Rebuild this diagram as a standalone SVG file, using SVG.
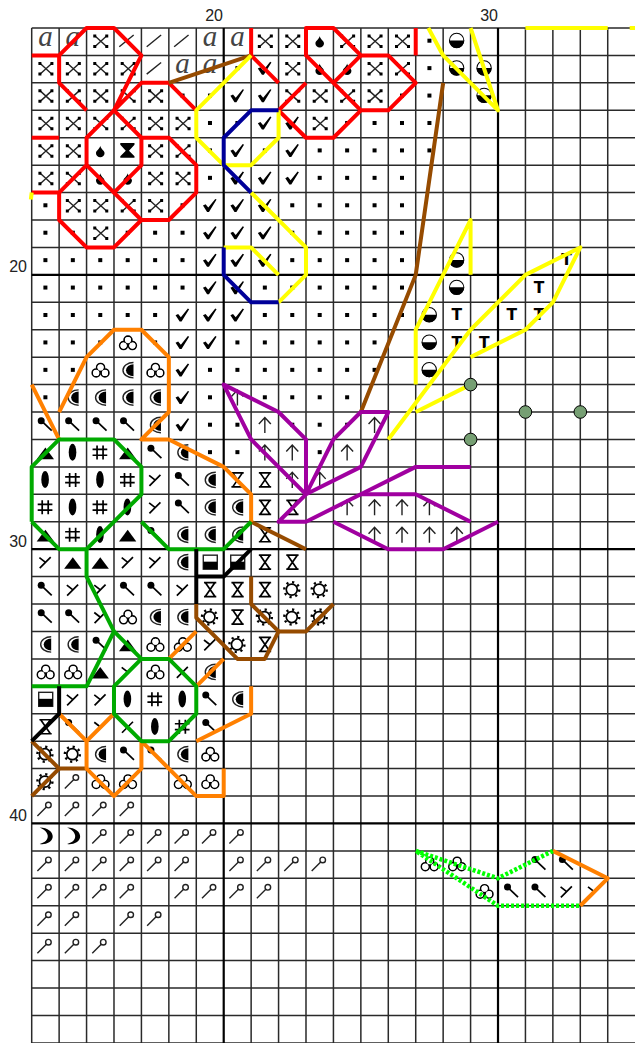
<svg xmlns="http://www.w3.org/2000/svg" width="635" height="1043" viewBox="0 0 635 1043">
<style>
.t{font-family:"Liberation Sans",Arial,sans-serif;font-size:16px;fill:#222}
.s{fill:none;stroke:#000;stroke-width:1.7}
.n{fill:none;stroke:#222;stroke-width:1.4}
.f{fill:#000;stroke:none}
.w{fill:#fff;stroke:none}
#grid path{fill:none;vector-effect:non-scaling-stroke;stroke:#2a2a2a;stroke-width:1.5}
#grid path.h{stroke:#000;stroke-width:2.2}
#connectors polyline{fill:none;vector-effect:non-scaling-stroke;stroke-width:4;stroke-linejoin:round}
.r polyline{stroke:#f00}.y polyline{stroke:#ff0}.b polyline{stroke:#009}.br polyline{stroke:#964b00}.o polyline{stroke:#ff8000}.g polyline{stroke:#0a0}.p polyline{stroke:#a000a0}.k polyline{stroke:#000}
#connectors .d polyline{stroke:#0f0;stroke-width:4.5;stroke-dasharray:3 2}
</style>
<defs>
<g id="a" transform="scale(.03646)"><text x="13.7" y="18" text-anchor="middle" font-family="Liberation Serif,serif" font-style="italic" font-size="29" fill="#444">a</text></g>
<g id="sl" transform="scale(.03646)"><path class="n" d="M5.3 18.7 19.7 7"/></g>
<g id="x" transform="scale(.03646)"><path class="n" d="M8.5 8 20 18.5M20 8 8.5 18.5"/><path class="f" d="M6.7 6.5h3v3h-3zM18.7 6.5h3v3h-3zM6.7 17h3v3h-3zM18.7 17h3v3h-3z"/></g>
<g id="dr" transform="scale(.03646)"><path class="f" d="M13.7 8C14 11 18 13 18 15.2A4.3 4.3 0 0 1 9.4 15.2C9.4 13 13.4 11 13.7 8Z"/></g>
<g id="hf" transform="scale(.03646)"><path class="f" d="M6.3 5.3H20.5V7L15 13L20.5 18.5V20H6.3V18.5L11.8 13L6.3 7Z"/></g>
<g id="dt" transform="scale(.03646)"><rect class="f" x="11.7" y="10.7" width="4" height="4"/></g>
<g id="ck" transform="scale(.03646)"><path class="f" d="M6.7 13 9.3 11.7 12 15 19 6.3 20.3 7 12.7 19.3H10.8Z"/></g>
<g id="tr" transform="scale(.03646)"><circle class="s" cx="14" cy="10.3" r="3.9"/><circle class="s" cx="9.6" cy="15.8" r="3.9"/><circle class="s" cx="18.4" cy="15.8" r="3.9"/><circle class="w" cx="14" cy="10.3" r="3.1"/><circle class="w" cx="9.6" cy="15.8" r="3.1"/><circle class="w" cx="18.4" cy="15.8" r="3.1"/></g>
<g id="cr" transform="scale(.03646)"><path class="n" d="M19.5 5.3A10.5 7.7 0 0 0 19.5 20.7"/><path class="f" d="M19.5 7A7.5 6 0 0 0 19.5 19Z"/></g>
<g id="pn" transform="scale(.03646)"><circle class="f" cx="9.5" cy="8.7" r="3.5"/><path class="s" d="M9.5 8.7 20 18.7"/></g>
<g id="tg" transform="scale(.03646)"><path class="f" d="M13.7 8 5 19.7H22.3Z"/></g>
<g id="ov" transform="scale(.03646)"><ellipse class="f" cx="13.4" cy="12.7" rx="3.8" ry="8.5"/></g>
<g id="ha" transform="scale(.03646)"><path class="s" d="M10.5 6V20M16.5 6V20M6 10H20.7M6 15.8H20.7"/></g>
<g id="yy" transform="scale(.03646)"><path class="s" d="M7.7 8.5 13.5 13M19 8 8 19"/></g>
<g id="hw" transform="scale(.03646)"><path class="s" d="M7.7 6H20M7.7 20H20M9 6 18.7 20M18.7 6 9 20"/></g>
<g id="bx" transform="scale(.03646)"><rect class="n" x="7" y="6" width="14" height="14"/><rect class="f" x="7" y="12.5" width="14" height="7.5"/></g>
<g id="su" transform="scale(.03646)"><circle class="s" cx="13.2" cy="13" r="5.5"/><circle cx="13.2" cy="13" r="7.5" fill="none" stroke="#000" stroke-width="2.4" stroke-dasharray="2.2 3.7"/></g>
<g id="lo" transform="scale(.03646)"><circle class="n" cx="16.7" cy="9" r="2.8"/><path class="n" d="M5.7 20 14.7 11"/></g>
<g id="mo" transform="scale(.03646)"><path class="f" d="M8 4C16 4 21.5 8.5 21 13.5C20.5 18.5 14 21.5 8 20.5C13.5 19 16.5 16 16 12C15.5 8.5 12 5.5 8 4Z"/></g>
<g id="hc" transform="scale(.03646)"><circle cx="13.5" cy="12.5" r="7.2" fill="#fff" stroke="#000" stroke-width="1"/><path class="f" d="M6 12.5A7.5 7.5 0 0 0 21 12.5Z"/></g>
<g id="ar" transform="scale(.03646)"><path class="n" d="M13.7 5.5V21M7.7 12 13.7 5.5 19.7 12"/></g>
<g id="tt" transform="scale(.03646)"><text x="13.7" y="18" text-anchor="middle" font-family="DejaVu Sans,sans-serif" font-weight="bold" font-size="15.5" fill="#000">T</text></g>
</defs>
<text class="t" x="223" y="21" text-anchor="end">20</text>
<text class="t" x="498" y="21" text-anchor="end">30</text>
<text class="t" x="27" y="272" text-anchor="end">20</text>
<text class="t" x="27" y="547" text-anchor="end">30</text>
<text class="t" x="27" y="821" text-anchor="end">40</text>
<g transform="translate(31.7 28) scale(27.43)">
<g id="grid">
<path d="M0 0H22M0 1H22M0 2H22M0 3H22M0 4H22M0 5H22M0 6H22M0 7H22M0 8H22M0 10H22M0 11H22M0 12H22M0 13H22M0 14H22M0 15H22M0 16H22M0 17H22M0 18H22M0 20H22M0 21H22M0 22H22M0 23H22M0 24H22M0 25H22M0 26H22M0 27H22M0 28H22M0 30H22M0 31H22M0 32H22M0 33H22M0 34H22M0 35H22M0 36H22M0 37H22"/>
<path d="M0 0V37M1 0V37M2 0V37M3 0V37M4 0V37M5 0V37M6 0V37M8 0V37M9 0V37M10 0V37M11 0V37M12 0V37M13 0V37M14 0V37M15 0V37M16 0V37M18 0V37M19 0V37M20 0V37M21 0V37"/>
<path class="h" d="M0 9H22M0 19H22M0 29H22M7 0V37M17 0V37"/>
</g>
<g id="symbols">
<g id="row0"><use href="#a" x="0"/><use href="#a" x="1"/><use href="#x" x="2"/><use href="#sl" x="3"/><use href="#sl" x="4"/><use href="#sl" x="5"/><use href="#a" x="6"/><use href="#a" x="7"/><use href="#x" x="8"/><use href="#x" x="9"/><use href="#dr" x="10"/><use href="#x" x="11"/><use href="#x" x="12"/><use href="#x" x="13"/><use href="#dt" x="14"/><use href="#hc" x="15"/></g>
<g id="row1" transform="translate(0 1)"><use href="#x" x="0"/><use href="#x" x="1"/><use href="#x" x="2"/><use href="#x" x="3"/><use href="#sl" x="4"/><use href="#a" x="5"/><use href="#a" x="6"/><use href="#dt" x="7"/><use href="#ck" x="8"/><use href="#x" x="9"/><use href="#dr" x="10"/><use href="#dr" x="11"/><use href="#x" x="12"/><use href="#x" x="13"/><use href="#dt" x="14"/><use href="#hc" x="15"/><use href="#hc" x="16"/></g>
<g id="row2" transform="translate(0 2)"><use href="#x" x="0"/><use href="#x" x="1"/><use href="#x" x="2"/><use href="#x" x="3"/><use href="#x" x="4"/><use href="#dt" x="5"/><use href="#dt" x="6"/><use href="#ck" x="7"/><use href="#ck" x="8"/><use href="#x" x="9"/><use href="#x" x="10"/><use href="#x" x="11"/><use href="#x" x="12"/><use href="#dt" x="13"/><use href="#dt" x="14"/><use href="#hc" x="16"/></g>
<g id="row3" transform="translate(0 3)"><use href="#x" x="0"/><use href="#x" x="1"/><use href="#x" x="2"/><use href="#x" x="3"/><use href="#x" x="4"/><use href="#x" x="5"/><use href="#dt" x="6"/><use href="#dt" x="7"/><use href="#ck" x="8"/><use href="#ck" x="9"/><use href="#x" x="10"/><use href="#dt" x="11"/><use href="#dt" x="12"/><use href="#dt" x="13"/><use href="#dt" x="14"/></g>
<g id="row4" transform="translate(0 4)"><use href="#x" x="0"/><use href="#x" x="1"/><use href="#dr" x="2"/><use href="#hf" x="3"/><use href="#x" x="4"/><use href="#x" x="5"/><use href="#dt" x="6"/><use href="#ck" x="7"/><use href="#dt" x="8"/><use href="#ck" x="9"/><use href="#dt" x="10"/><use href="#dt" x="11"/><use href="#dt" x="12"/><use href="#dt" x="13"/><use href="#dt" x="14"/></g>
<g id="row5" transform="translate(0 5)"><use href="#x" x="0"/><use href="#x" x="1"/><use href="#dr" x="2"/><use href="#dr" x="3"/><use href="#x" x="4"/><use href="#x" x="5"/><use href="#dt" x="6"/><use href="#ck" x="7"/><use href="#ck" x="8"/><use href="#ck" x="9"/><use href="#dt" x="10"/><use href="#dt" x="11"/><use href="#dt" x="12"/><use href="#dt" x="13"/></g>
<g id="row6" transform="translate(0 6)"><use href="#dt" x="0"/><use href="#x" x="1"/><use href="#x" x="2"/><use href="#x" x="3"/><use href="#x" x="4"/><use href="#dt" x="5"/><use href="#ck" x="6"/><use href="#ck" x="7"/><use href="#ck" x="8"/><use href="#dt" x="9"/><use href="#dt" x="10"/><use href="#dt" x="11"/><use href="#dt" x="12"/><use href="#dt" x="13"/></g>
<g id="row7" transform="translate(0 7)"><use href="#dt" x="0"/><use href="#dt" x="1"/><use href="#x" x="2"/><use href="#dt" x="3"/><use href="#dt" x="4"/><use href="#dt" x="5"/><use href="#ck" x="6"/><use href="#ck" x="7"/><use href="#ck" x="8"/><use href="#dt" x="9"/><use href="#dt" x="10"/><use href="#dt" x="11"/><use href="#dt" x="12"/><use href="#dt" x="13"/></g>
<g id="row8" transform="translate(0 8)"><use href="#dt" x="0"/><use href="#dt" x="1"/><use href="#dt" x="2"/><use href="#dt" x="3"/><use href="#dt" x="4"/><use href="#dt" x="5"/><use href="#ck" x="6"/><use href="#ck" x="7"/><use href="#ck" x="8"/><use href="#dt" x="9"/><use href="#dt" x="10"/><use href="#dt" x="11"/><use href="#dt" x="12"/><use href="#dt" x="13"/><use href="#hc" x="15"/><use href="#tt" x="19"/></g>
<g id="row9" transform="translate(0 9)"><use href="#dt" x="0"/><use href="#dt" x="1"/><use href="#dt" x="2"/><use href="#dt" x="3"/><use href="#dt" x="4"/><use href="#dt" x="5"/><use href="#ck" x="6"/><use href="#ck" x="7"/><use href="#dt" x="8"/><use href="#dt" x="9"/><use href="#dt" x="10"/><use href="#dt" x="11"/><use href="#dt" x="12"/><use href="#dt" x="13"/><use href="#hc" x="15"/><use href="#tt" x="18"/></g>
<g id="row10" transform="translate(0 10)"><use href="#dt" x="0"/><use href="#dt" x="1"/><use href="#dt" x="2"/><use href="#dt" x="3"/><use href="#dt" x="4"/><use href="#ck" x="5"/><use href="#ck" x="6"/><use href="#ck" x="7"/><use href="#dt" x="8"/><use href="#dt" x="9"/><use href="#dt" x="10"/><use href="#dt" x="11"/><use href="#dt" x="12"/><use href="#dt" x="13"/><use href="#hc" x="14"/><use href="#tt" x="15"/><use href="#tt" x="17"/><use href="#tt" x="18"/></g>
<g id="row11" transform="translate(0 11)"><use href="#dt" x="0"/><use href="#dt" x="1"/><use href="#dt" x="2"/><use href="#tr" x="3"/><use href="#dt" x="4"/><use href="#ck" x="5"/><use href="#ck" x="6"/><use href="#dt" x="7"/><use href="#dt" x="8"/><use href="#dt" x="9"/><use href="#dt" x="10"/><use href="#dt" x="11"/><use href="#dt" x="12"/><use href="#hc" x="14"/><use href="#tt" x="15"/><use href="#tt" x="16"/></g>
<g id="row12" transform="translate(0 12)"><use href="#dt" x="0"/><use href="#dt" x="1"/><use href="#tr" x="2"/><use href="#cr" x="3"/><use href="#tr" x="4"/><use href="#ck" x="5"/><use href="#dt" x="6"/><use href="#dt" x="7"/><use href="#dt" x="8"/><use href="#dt" x="9"/><use href="#dt" x="10"/><use href="#dt" x="11"/><use href="#dt" x="12"/><use href="#hc" x="14"/></g>
<g id="row13" transform="translate(0 13)"><use href="#dt" x="0"/><use href="#cr" x="1"/><use href="#cr" x="2"/><use href="#cr" x="3"/><use href="#cr" x="4"/><use href="#ck" x="5"/><use href="#dt" x="6"/><use href="#ar" x="7"/><use href="#dt" x="8"/><use href="#dt" x="9"/><use href="#dt" x="10"/><use href="#dt" x="11"/></g>
<g id="row14" transform="translate(0 14)"><use href="#pn" x="0"/><use href="#pn" x="1"/><use href="#pn" x="2"/><use href="#pn" x="3"/><use href="#cr" x="4"/><use href="#ck" x="5"/><use href="#dt" x="6"/><use href="#dt" x="7"/><use href="#ar" x="8"/><use href="#dt" x="9"/><use href="#dt" x="10"/><use href="#dt" x="11"/><use href="#ar" x="12"/></g>
<g id="row15" transform="translate(0 15)"><use href="#tg" x="0"/><use href="#ov" x="1"/><use href="#ha" x="2"/><use href="#tg" x="3"/><use href="#pn" x="4"/><use href="#cr" x="5"/><use href="#dt" x="6"/><use href="#dt" x="7"/><use href="#ar" x="8"/><use href="#ar" x="9"/><use href="#dt" x="10"/><use href="#ar" x="11"/></g>
<g id="row16" transform="translate(0 16)"><use href="#ov" x="0"/><use href="#ha" x="1"/><use href="#ov" x="2"/><use href="#ha" x="3"/><use href="#yy" x="4"/><use href="#pn" x="5"/><use href="#cr" x="6"/><use href="#hw" x="7"/><use href="#hw" x="8"/><use href="#ar" x="9"/><use href="#ar" x="10"/></g>
<g id="row17" transform="translate(0 17)"><use href="#ha" x="0"/><use href="#ov" x="1"/><use href="#ha" x="2"/><use href="#ov" x="3"/><use href="#yy" x="4"/><use href="#pn" x="5"/><use href="#cr" x="6"/><use href="#cr" x="7"/><use href="#hw" x="8"/><use href="#hw" x="9"/><use href="#ar" x="11"/><use href="#ar" x="12"/><use href="#ar" x="13"/><use href="#ar" x="14"/></g>
<g id="row18" transform="translate(0 18)"><use href="#tg" x="0"/><use href="#ha" x="1"/><use href="#ov" x="2"/><use href="#tg" x="3"/><use href="#pn" x="4"/><use href="#cr" x="5"/><use href="#cr" x="6"/><use href="#cr" x="7"/><use href="#hw" x="8"/><use href="#ar" x="12"/><use href="#ar" x="13"/><use href="#ar" x="14"/><use href="#ar" x="15"/></g>
<g id="row19" transform="translate(0 19)"><use href="#yy" x="0"/><use href="#tg" x="1"/><use href="#tg" x="2"/><use href="#yy" x="3"/><use href="#yy" x="4"/><use href="#cr" x="5"/><use href="#bx" x="6"/><use href="#bx" x="7"/><use href="#hw" x="8"/><use href="#hw" x="9"/></g>
<g id="row20" transform="translate(0 20)"><use href="#pn" x="0"/><use href="#yy" x="1"/><use href="#yy" x="2"/><use href="#pn" x="3"/><use href="#pn" x="4"/><use href="#yy" x="5"/><use href="#hw" x="6"/><use href="#hw" x="7"/><use href="#hw" x="8"/><use href="#su" x="9"/><use href="#su" x="10"/></g>
<g id="row21" transform="translate(0 21)"><use href="#pn" x="0"/><use href="#pn" x="1"/><use href="#yy" x="2"/><use href="#tr" x="3"/><use href="#cr" x="4"/><use href="#cr" x="5"/><use href="#su" x="6"/><use href="#hw" x="7"/><use href="#su" x="8"/><use href="#su" x="9"/><use href="#su" x="10"/></g>
<g id="row22" transform="translate(0 22)"><use href="#cr" x="0"/><use href="#cr" x="1"/><use href="#pn" x="2"/><use href="#tg" x="3"/><use href="#tr" x="4"/><use href="#tr" x="5"/><use href="#yy" x="6"/><use href="#su" x="7"/><use href="#hw" x="8"/></g>
<g id="row23" transform="translate(0 23)"><use href="#tr" x="0"/><use href="#tr" x="1"/><use href="#tg" x="2"/><use href="#yy" x="3"/><use href="#tr" x="4"/><use href="#yy" x="5"/><use href="#cr" x="6"/></g>
<g id="row24" transform="translate(0 24)"><use href="#bx" x="0"/><use href="#yy" x="1"/><use href="#yy" x="2"/><use href="#ov" x="3"/><use href="#ha" x="4"/><use href="#ov" x="5"/><use href="#pn" x="6"/><use href="#cr" x="7"/></g>
<g id="row25" transform="translate(0 25)"><use href="#hw" x="0"/><use href="#pn" x="1"/><use href="#yy" x="2"/><use href="#yy" x="3"/><use href="#ov" x="4"/><use href="#ha" x="5"/><use href="#pn" x="6"/></g>
<g id="row26" transform="translate(0 26)"><use href="#su" x="0"/><use href="#su" x="1"/><use href="#cr" x="2"/><use href="#pn" x="3"/><use href="#pn" x="4"/><use href="#cr" x="5"/><use href="#tr" x="6"/></g>
<g id="row27" transform="translate(0 27)"><use href="#su" x="0"/><use href="#lo" x="1"/><use href="#tr" x="2"/><use href="#tr" x="3"/><use href="#tr" x="5"/><use href="#tr" x="6"/></g>
<g id="row28" transform="translate(0 28)"><use href="#lo" x="0"/><use href="#lo" x="1"/><use href="#lo" x="2"/><use href="#lo" x="3"/></g>
<g id="row29" transform="translate(0 29)"><use href="#mo" x="0"/><use href="#mo" x="1"/><use href="#lo" x="2"/><use href="#lo" x="3"/><use href="#lo" x="4"/><use href="#lo" x="5"/><use href="#lo" x="6"/><use href="#lo" x="7"/></g>
<g id="row30" transform="translate(0 30)"><use href="#lo" x="0"/><use href="#lo" x="1"/><use href="#lo" x="2"/><use href="#lo" x="3"/><use href="#lo" x="4"/><use href="#lo" x="5"/><use href="#lo" x="7"/><use href="#lo" x="8"/><use href="#lo" x="9"/><use href="#lo" x="10"/><use href="#tr" x="14"/><use href="#tr" x="15"/><use href="#pn" x="18"/><use href="#pn" x="19"/></g>
<g id="row31" transform="translate(0 31)"><use href="#lo" x="0"/><use href="#lo" x="1"/><use href="#lo" x="2"/><use href="#lo" x="3"/><use href="#lo" x="5"/><use href="#lo" x="6"/><use href="#lo" x="7"/><use href="#lo" x="8"/><use href="#tr" x="16"/><use href="#pn" x="17"/><use href="#pn" x="18"/><use href="#yy" x="19"/><use href="#yy" x="20"/></g>
<g id="row32" transform="translate(0 32)"><use href="#lo" x="0"/><use href="#lo" x="1"/><use href="#lo" x="3"/><use href="#lo" x="4"/></g>
<g id="row33" transform="translate(0 33)"><use href="#lo" x="0"/><use href="#lo" x="1"/><use href="#lo" x="2"/></g>
</g>
<g id="connectors">
<g class="r">
<polyline points="0,1 1,1 2,0 3,0 4,1 3,3 4,2 5,2 6,3"/><polyline points="1,1 1,2 2,3"/><polyline points="8,0 8,1 9,2"/><polyline points="10,2 9,3 10,4 11,4 12,3 13,3 14,2 13,1 12,1 11,0 10,0 10,1 11,2 12,3"/><polyline points="12,1 11,2"/><polyline points="14,0 14,1"/><polyline points="0,4 1,4"/><polyline points="4,4 3,3 2,4 2,5 1,6 0,6"/><polyline points="1,6 1,7 2,8 3,8 4,7 5,7 6,6 6,5 5,4 4,4 4,5 3,6 2,5"/><polyline points="3,6 4,7"/>
</g>
<g class="br"><polyline points="5,2 8,1"/><polyline points="15,2 14,9 12,14"/><polyline points="8,18 10,19"/><polyline points="6,21 6,21.5 7.5,23 8.5,23 9,22 10,22 11,21"/><polyline points="8,20 8,21 9,22"/><polyline points="0,26 1,27 2,27"/><polyline points="1,27 0,28"/></g>
<g class="y">
<polyline points="8,1 6,3 6,4 7,5 8,5 9,4 9,3"/><polyline points="8,6 10,8 10,9 9,10"/><polyline points="7,8 8,8 9,9"/><polyline points="14.46,0 15,1 17,3 16,0"/><polyline points="18,0 21,0"/><polyline points="21.8,0 22,0"/><polyline points="0,6 -.03,6.25"/><polyline points="16,9 16,7 14,11 14,13"/><polyline points="13,15 16,11 18,9 20,8 19,10 18,11 16,12"/><polyline points="14,14 16,13"/>
</g>
<g class="b"><polyline points="9,3 8,3 7,4 7,5 8,6"/><polyline points="7,8 7,9 8,10 9,10"/></g>
<g class="o"><polyline points="0,13 1,15"/><polyline points="1,14 2,12 3,11 4,11 5,12 5,14 4,15 5,15 7,16 8,17 8,18"/><polyline points="5,23 6,22"/><polyline points="6,24 7,23"/><polyline points="8,24 8,25 6,26"/><polyline points="3,25 2,26 1,25"/><polyline points="2,26 2,27 3,28 4,27 4,26 6,28 7,28 7,27"/><polyline points="19,30 21,31 20,32"/></g>
<g class="g"><polyline points="0,18 0,16 1,15 3,15 4,16 4,17 2,19 1,19 0,18"/><polyline points="4,18 5,19 7,19 8,18"/><polyline points="2,19 2,20 3,22 4,23 5,23 6,24 6,25 5,26 4,26 3,25 3,24 4,23"/><polyline points="3,22 2,24 0,24"/></g>
<g class="p"><polyline points="10,17 8,15 7,13 9,14 10,15 10,17 11,15 12,14 13,14 12,16 10,17 9,18 10,18 12,17 14,16 16,16"/><polyline points="12,17 14,17 16,18"/><polyline points="11,18 13,19 15,19 17,18"/></g>
<g class="k"><polyline points="6,19 6,21"/><polyline points="6,20 7,20 8,19"/><polyline points="1,24 1,25 0,26"/></g>
<g class="d"><polyline points="19,30 17,31 14,30 17,32 20,32"/></g>
</g>
</g>
<g id="dots" fill="#769f73" stroke="#000" stroke-width="1"><circle cx="470.6" cy="384.6" r="6.3"/><circle cx="470.6" cy="439.5" r="6.3"/><circle cx="525.4" cy="412" r="6.3"/><circle cx="580.3" cy="412" r="6.3"/></g>
</svg>
